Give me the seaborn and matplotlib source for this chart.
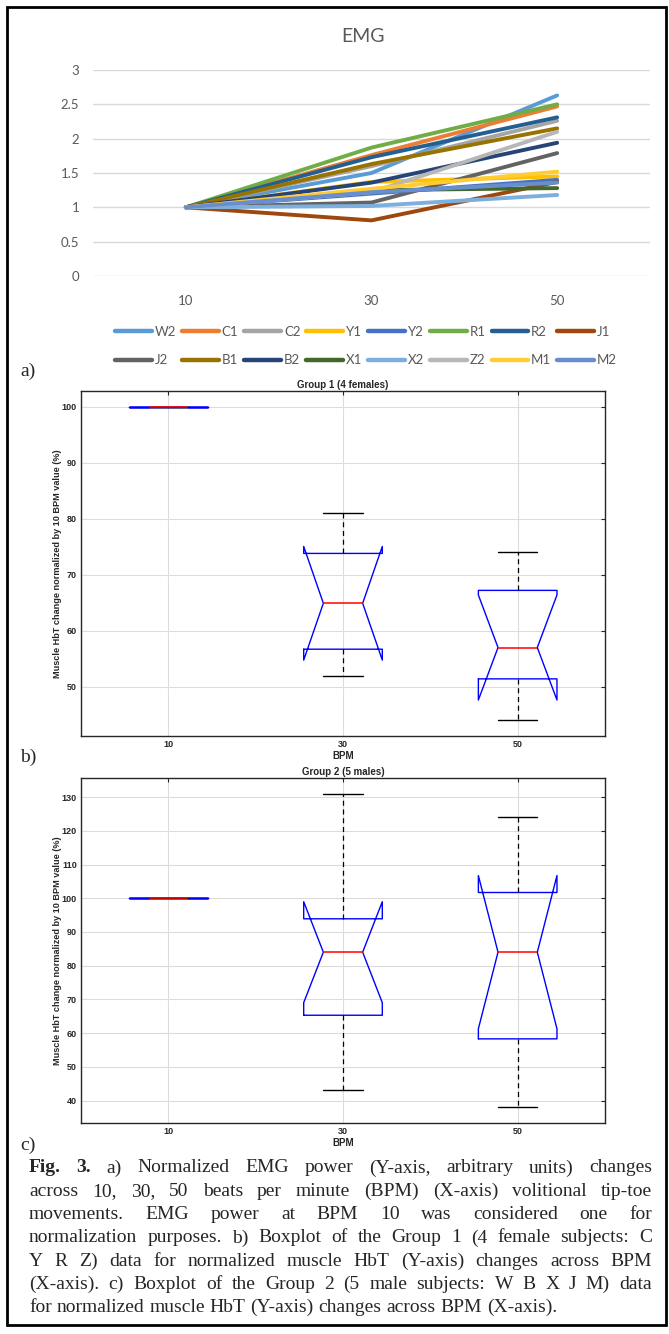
import numpy as np
import pandas as pd
import matplotlib
matplotlib.use("Agg")
import matplotlib.pyplot as plt
from matplotlib.patches import Rectangle
import seaborn as sns

# ---------------- data ----------------
# Panel a: normalized EMG power per subject
emg_bpm = [10, 30, 50]
subjects = ["W2", "C1", "C2", "Y1", "Y2", "R1", "R2", "J1",
            "J2", "B1", "B2", "X1", "X2", "Z2", "M1", "M2"]
emg_at_10 = [1.00, 1.00, 1.00, 1.00, 1.00, 1.00, 1.00, 1.00,
             1.00, 1.00, 1.00, 1.00, 1.00, 1.00, 1.00, 1.00]
emg_at_30 = [1.50, 1.76, 1.60, 1.37, 1.20, 1.87, 1.73, 0.81,
             1.07, 1.63, 1.36, 1.25, 1.02, 1.22, 1.27, 1.22]
emg_at_50 = [2.63, 2.47, 2.26, 1.45, 1.40, 2.50, 2.31, 1.37,
             1.79, 2.15, 1.94, 1.28, 1.18, 2.10, 1.52, 1.36]
subject_colors = ["#5B9BD5", "#ED7D31", "#A5A5A5", "#FFC000", "#4472C4", "#70AD47", "#255E91", "#9E480E",
                  "#636363", "#997300", "#264478", "#43682B", "#7CAFDD", "#B7B7B7", "#FFCD33", "#698ED0"]

# Panels b, c: muscle HbT normalized by 10 BPM value (%)
bpm_labels = ["10", "30", "50"]
g1_bpm10 = [100.0, 100.0, 100.0, 100.0, 100.0, 100.0, 100.0]
g1_bpm30 = [52.0, 55.0, 58.4, 64.9, 72.0, 75.6, 81.0]
g1_bpm50 = [44.0, 50.0, 52.8, 57.0, 65.0, 69.4, 74.0]
g2_bpm10 = [100.0, 100.0, 100.0, 100.0, 100.0, 100.0, 100.0, 100.0, 100.0]
g2_bpm30 = [43.0, 58.0, 65.3, 76.0, 84.0, 89.0, 93.9, 110.0, 131.0]
g2_bpm50 = [38.0, 50.0, 58.3, 72.0, 84.0, 95.0, 101.7, 112.0, 124.0]

caption_lines = [
    ("**Fig.** **3.** a) Normalized EMG power (Y-axis, arbitrary units) changes", True),
    ("across 10, 30, 50 beats per minute (BPM) (X-axis) volitional tip-toe", True),
    ("movements. EMG power at BPM 10 was considered one for", True),
    ("normalization purposes. b) Boxplot of the Group 1 (4 female subjects: C", True),
    ("Y R Z) data for normalized muscle HbT (Y-axis) changes across BPM", True),
    ("(X-axis). c) Boxplot of the Group 2 (5 male subjects: W B X J M) data", True),
    ("for normalized muscle HbT (Y-axis) changes across BPM (X-axis).", False),
]

# ---------------- figure ----------------
sns.set_style("white")
W, H = 669, 1334
fig = plt.figure(figsize=(W / 100, H / 100), dpi=100)

def add_ax(l, t, r, b):
    return fig.add_axes([l / W, 1 - b / H, (r - l) / W, (b - t) / H])

def fx(px):
    return px / W

def fy(py):
    return 1 - py / H

EXCEL_GRAY = "#595959"
EXCEL_FONT = ["Lato", "DejaVu Sans"]
MAT_FONT = ["Liberation Sans Narrow", "Liberation Sans", "DejaVu Sans"]
SERIF = ["Liberation Serif", "DejaVu Serif"]

# ---------- Panel a: EMG line chart ----------
emg_df = pd.DataFrame({
    "subject": subjects * 3,
    "BPM": [emg_bpm[0]] * 16 + [emg_bpm[1]] * 16 + [emg_bpm[2]] * 16,
    "EMG": emg_at_10 + emg_at_30 + emg_at_50,
})
axa = add_ax(93, 70, 650, 276)
sns.lineplot(data=emg_df, x="BPM", y="EMG", hue="subject", hue_order=subjects,
             palette=dict(zip(subjects, subject_colors)), linewidth=2.8,
             solid_capstyle="round", ax=axa, legend=True)
axa.set_xlim(0, 60)
axa.set_ylim(0, 3)
axa.set_xticks(emg_bpm)
axa.set_xticklabels([str(v) for v in emg_bpm])
axa.set_yticks([0, 0.5, 1, 1.5, 2, 2.5, 3])
axa.set_yticklabels(["0", "0.5", "1", "1.5", "2", "2.5", "3"])
for s in axa.spines.values():
    s.set_visible(False)
axa.grid(False)
axa.yaxis.grid(True, color="#D9D9D9", linewidth=1.0)
axa.set_axisbelow(True)
axa.tick_params(axis="both", length=0, labelsize=9.5, labelcolor=EXCEL_GRAY)
axa.tick_params(axis="y", pad=10)
axa.tick_params(axis="x", pad=14)
for lab in axa.get_xticklabels() + axa.get_yticklabels():
    lab.set_family(EXCEL_FONT)
axa.set_xlabel("")
axa.set_ylabel("")

old_leg = axa.get_legend()
handles = list(old_leg.legend_handles)
labels = [t.get_text() for t in old_leg.get_texts()]
old_leg.remove()
order = []
for i in range(8):
    order += [i, i + 8]
handles = [handles[i] for i in order]
labels = [labels[i] for i in order]
for h in handles:
    h.set_linewidth(3.2)
leg = axa.legend(handles, labels, ncol=8, loc="center",
                 bbox_to_anchor=(fx(366), fy(346)), bbox_transform=fig.transFigure,
                 frameon=False, handlelength=2.8, handletextpad=0.2,
                 columnspacing=0.45, labelspacing=1.25,
                 prop={"family": EXCEL_FONT, "size": 9.5})
for t in leg.get_texts():
    t.set_color(EXCEL_GRAY)

fig.text(fx(363), fy(36), "EMG", ha="center", va="center", fontsize=14,
         color=EXCEL_GRAY, family=EXCEL_FONT)

# ---------- Panels b, c: notched boxplots ----------
def box_panel(l, t, r, b, vals10, vals30, vals50, ylim, yticks, title):
    df = pd.DataFrame({
        "BPM": [bpm_labels[0]] * len(vals10) + [bpm_labels[1]] * len(vals30) + [bpm_labels[2]] * len(vals50),
        "HbT": list(vals10) + list(vals30) + list(vals50),
    })
    ax = add_ax(l, t, r, b)
    sns.boxplot(data=df, x="BPM", y="HbT", order=bpm_labels, notch=True, fill=False,
                color="#0000FF", width=0.45, linewidth=1.0, whis=1.5,
                boxprops={"color": "#0000FF", "linewidth": 1.0},
                medianprops={"color": "#FF0000", "linewidth": 1.1},
                whiskerprops={"color": "black", "linestyle": (0, (4, 3)), "linewidth": 0.9},
                capprops={"color": "black", "linewidth": 1.0},
                ax=ax)
    ax.set_xlim(-0.5, 2.5)
    ax.set_ylim(*ylim)
    ax.set_yticks(yticks)
    ax.set_yticklabels([str(v) for v in yticks])
    ax.grid(True, color="#DCDCDC", linewidth=0.8)
    ax.set_axisbelow(True)
    for s in ax.spines.values():
        s.set_visible(True)
        s.set_color("#262626")
        s.set_linewidth(1.0)
    ax.tick_params(axis="both", direction="in", length=3, width=0.8, color="#262626",
                   top=True, right=True, labelsize=6.5, pad=3)
    for lab in ax.get_xticklabels() + ax.get_yticklabels():
        lab.set_family(MAT_FONT)
        lab.set_fontweight("bold")
        lab.set_color("#262626")
    ax.set_xlabel("BPM", fontsize=7, fontweight="bold", family=MAT_FONT, color="#262626")
    ax.xaxis.set_label_coords(0.5, -(20.0 / (b - t)))
    ax.xaxis.label.set_va("center")
    ax.set_ylabel("Muscle HbT change normalized by 10 BPM value (%)", fontsize=6.6,
                  fontweight="bold", family=["Liberation Sans", "DejaVu Sans"], color="#262626")
    ax.yaxis.set_label_coords(-(23.0 / (r - l)), 0.5)
    ax.yaxis.label.set_va("center")
    ax.text(0.5, 1 + 6.0 / (b - t), title, transform=ax.transAxes, ha="center", va="center",
            fontsize=7, fontweight="bold", family=MAT_FONT, color="#262626")
    return ax

box_panel(81, 391, 605, 736, g1_bpm10, g1_bpm30, g1_bpm50, (41.2, 102.8),
          [50, 60, 70, 80, 90, 100], "Group 1 (4 females)")
box_panel(81, 778, 605, 1123, g2_bpm10, g2_bpm30, g2_bpm50, (33.35, 135.65),
          [40, 50, 60, 70, 80, 90, 100, 110, 120, 130], "Group 2 (5 males)")

# ---------- panel letters ----------
for txt, y in [("a)", 371), ("b)", 757), ("c)", 1145)]:
    fig.text(fx(20), fy(y), txt, ha="left", va="center", fontsize=14, family=SERIF)

# ---------- justified caption ----------
renderer = fig.canvas.get_renderer()
cap_size = 14
x_left, x_right = 29, 652
y0, dy = 1168, 23.3
for i, (line, justify) in enumerate(caption_lines):
    y = y0 + i * dy
    words = line.split(" ")
    arts, widths = [], []
    for w in words:
        bold = w.startswith("**")
        w = w.strip("*")
        t = fig.text(0, fy(y), w, ha="left", va="center", fontsize=cap_size,
                     family=SERIF, fontweight="bold" if bold else "normal")
        bb = t.get_window_extent(renderer)
        arts.append(t)
        widths.append(bb.width)
    space = cap_size * 100 / 72 * 0.25
    if justify and len(words) > 1:
        gap = (x_right - x_left - sum(widths)) / (len(words) - 1)
    else:
        gap = space
    x = x_left
    for t, wd in zip(arts, widths):
        t.set_x(fx(x))
        x += wd + gap

# ---------- outer frame ----------
fig.add_artist(Rectangle((fx(7), fy(1325)), (666 - 7) / W, (1325 - 7) / H,
                         transform=fig.transFigure, fill=False, lw=2, ec="black"))

fig.savefig("out.png", dpi=100)
